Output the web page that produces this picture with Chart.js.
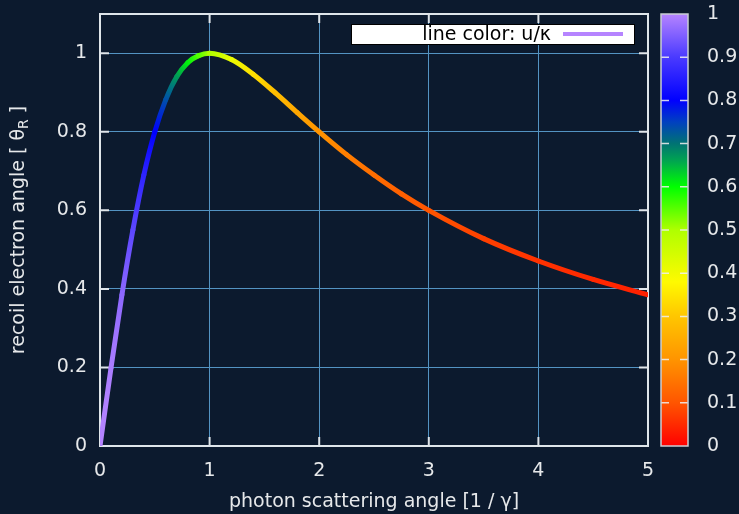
<!DOCTYPE html>
<html>
<head>
<meta charset="utf-8">
<script src="https://cdn.jsdelivr.net/npm/chart.js@4.4.0/dist/chart.umd.min.js"></script>
<style>
    html, body { margin: 0; padding: 0; background: #0c1a2e; }
    #wrap { width: 739px; height: 514px; }
</style>
</head>
<body>
<div id="wrap"><canvas id="recoilChart" width="739" height="514"></canvas></div>
<script>
// photon scattering angle [1/γ] and recoil electron angle
const angleX = [0, 0.1, 0.2, 0.3, 0.4, 0.5, 0.6, 0.7, 0.8, 0.9, 1.0, 1.2, 1.4, 1.6, 1.8, 2.0, 2.25, 2.5, 2.75, 3.0, 3.5, 4.0, 4.5, 5.0];
const angleY = [0, 0.198, 0.385, 0.550, 0.690, 0.800, 0.882, 0.940, 0.976, 0.994, 1.000, 0.984, 0.946, 0.899, 0.849, 0.800, 0.742, 0.690, 0.642, 0.600, 0.528, 0.471, 0.424, 0.385];
// u/κ along the curve (line colour)
const ratioU = [1.0, 0.990, 0.962, 0.917, 0.862, 0.800, 0.735, 0.671, 0.610, 0.552, 0.500, 0.410, 0.338, 0.281, 0.236, 0.200, 0.165, 0.138, 0.117, 0.100, 0.075, 0.059, 0.047, 0.038];

const xTicks = [0, 1, 2, 3, 4, 5];
const yTicks = [0, 0.2, 0.4, 0.6, 0.8, 1];
const cbTicks = [0, 0.1, 0.2, 0.3, 0.4, 0.5, 0.6, 0.7, 0.8, 0.9, 1];
const legendText = 'line color: u/κ';
const xTitle = 'photon scattering angle [1 / γ]';

const FONT = 'DejaVu Sans';
const TXT = '#e6e8ea';
const GRID = '#5393c2';
const FRAME = '#dfe5ea';

// palette of the colour bar
const stops = [
    [0.00, [255, 0, 0]],
    [0.10, [255, 85, 0]],
    [0.20, [255, 148, 0]],
    [0.30, [255, 198, 0]],
    [0.38, [255, 250, 0]],
    [0.50, [175, 255, 0]],
    [0.60, [0, 255, 0]],
    [0.66, [0, 165, 80]],
    [0.70, [0, 115, 115]],
    [0.75, [0, 64, 192]],
    [0.80, [0, 0, 255]],
    [0.90, [74, 58, 255]],
    [1.00, [182, 132, 255]]
];

function uColor(u) {
    for (let i = 1; i < stops.length; i++) {
        if (u <= stops[i][0]) {
            const a = stops[i - 1], b = stops[i];
            const t = (u - a[0]) / (b[0] - a[0]);
            const c = a[1].map((v, k) => Math.round(v + (b[1][k] - v) * t));
            return 'rgb(' + c.join(',') + ')';
        }
    }
    return 'rgb(' + stops[stops.length - 1][1].join(',') + ')';
}

const fmt = v => String(+v.toFixed(1));

const canvas = document.getElementById('recoilChart');
const ctx = canvas.getContext('2d');

const decor = {
    id: 'decor',
    beforeDatasetsDraw(chart) {
        const a = chart.chartArea, c = chart.ctx;
        const xs = chart.scales.x, ys = chart.scales.y;
        c.save();
        c.strokeStyle = FRAME;
        c.lineWidth = 2;
        c.beginPath();
        xTicks.forEach(v => {
            const px = xs.getPixelForValue(v);
            c.moveTo(px, a.bottom); c.lineTo(px, a.bottom - 9);
            c.moveTo(px, a.top); c.lineTo(px, a.top + 9);
        });
        yTicks.forEach(v => {
            const py = ys.getPixelForValue(v);
            c.moveTo(a.left, py); c.lineTo(a.left + 9, py);
            c.moveTo(a.right, py); c.lineTo(a.right - 9, py);
        });
        c.stroke();
        c.strokeRect(a.left, a.top, a.right - a.left, a.bottom - a.top);
        c.restore();
    },
    afterDraw(chart) {
        const a = chart.chartArea, c = chart.ctx;
        const cb = chart.scales.cb;
        c.save();
        // colour bar
        const x0 = a.right + 13, w = 27;
        const top = cb.getPixelForValue(1), bot = cb.getPixelForValue(0);
        const g = c.createLinearGradient(0, bot, 0, top);
        stops.forEach(s => g.addColorStop(s[0], 'rgb(' + s[1].join(',') + ')'));
        c.fillStyle = g;
        c.fillRect(x0, top, w, bot - top);
        c.strokeStyle = 'rgba(240,240,240,0.85)';
        c.lineWidth = 1.5;
        c.beginPath();
        cbTicks.slice(1, -1).forEach(v => {
            const py = cb.getPixelForValue(v);
            c.moveTo(x0, py); c.lineTo(x0 + 8, py);
            c.moveTo(x0 + w, py); c.lineTo(x0 + w - 8, py);
        });
        c.stroke();
        c.strokeStyle = '#c9ced3';
        c.lineWidth = 1.5;
        c.strokeRect(x0, top, w, bot - top);

        // legend box
        c.fillStyle = '#ffffff';
        c.fillRect(351, 24, 284, 21);
        c.strokeStyle = '#000000';
        c.lineWidth = 1;
        c.strokeRect(351.5, 24.5, 283, 20);
        c.fillStyle = '#000000';
        c.font = '19px "' + FONT + '"';
        c.textAlign = 'right';
        c.textBaseline = 'middle';
        c.fillText(legendText, 551, 35);
        c.strokeStyle = uColor(1);
        c.lineWidth = 4;
        c.beginPath();
        c.moveTo(563, 34); c.lineTo(623, 34);
        c.stroke();

        // y title with subscript
        const cy = (a.top + a.bottom) / 2;
        c.translate(19, cy);
        c.rotate(-Math.PI / 2);
        c.fillStyle = TXT;
        c.textAlign = 'left';
        const p1 = 'recoil electron angle [ θ', p2 = 'R', p3 = ' ]';
        const big = '19px "' + FONT + '"', small = '14px "' + FONT + '"';
        c.font = big;
        const w1 = c.measureText(p1).width, w3 = c.measureText(p3).width;
        c.font = small;
        const w2 = c.measureText(p2).width;
        let sx = -(w1 + w2 + w3) / 2;
        c.font = big;
        c.fillText(p1, sx, 0);
        c.font = small;
        c.fillText(p2, sx + w1, 5);
        c.font = big;
        c.fillText(p3, sx + w1 + w2, 0);
        c.restore();
    }
};

const recoilChart = new Chart(ctx, {
    type: 'line',
    data: {
        datasets: [{
            label: legendText,
            data: angleX.map((x, i) => ({ x: x, y: angleY[i] })),
            borderWidth: 5,
            borderCapStyle: 'round',
            borderJoinStyle: 'round',
            pointRadius: 0,
            cubicInterpolationMode: 'monotone',
            segment: {
                borderColor: function (s) {
                    const g = ctx.createLinearGradient(s.p0.x, s.p0.y, s.p1.x, s.p1.y);
                    g.addColorStop(0, uColor(ratioU[s.p0DataIndex]));
                    g.addColorStop(1, uColor(ratioU[s.p1DataIndex]));
                    return g;
                }
            }
        }]
    },
    options: {
        responsive: false,
        animation: false,
        layout: { padding: { top: 14, left: 0, right: 0, bottom: 0 } },
        plugins: {
            legend: { display: false },
            tooltip: { enabled: false }
        },
        scales: {
            x: {
                type: 'linear',
                min: 0,
                max: 5,
                afterBuildTicks: s => { s.ticks = xTicks.map(v => ({ value: v })); },
                afterFit: s => { s.height = 68; s.paddingLeft = 0; s.paddingRight = 0; },
                grid: { color: GRID, drawTicks: false, lineWidth: 1 },
                border: { display: false },
                ticks: { color: TXT, padding: 14, font: { family: FONT, size: 19 }, maxRotation: 0, callback: fmt },
                title: {
                    display: true,
                    text: xTitle,
                    color: TXT,
                    font: { family: FONT, size: 19 },
                    padding: { top: 0, bottom: 1 }
                }
            },
            y: {
                min: 0,
                max: 1.1,
                afterBuildTicks: s => { s.ticks = yTicks.map(v => ({ value: v })); },
                afterFit: s => { s.width = 100; s.paddingTop = 0; s.paddingBottom = 0; },
                grid: { color: GRID, drawTicks: false, lineWidth: 1 },
                border: { display: false },
                ticks: { color: TXT, padding: 13, font: { family: FONT, size: 19 }, callback: fmt }
            },
            cb: {
                type: 'linear',
                position: 'right',
                min: 0,
                max: 1,
                afterBuildTicks: s => { s.ticks = cbTicks.map(v => ({ value: v })); },
                afterFit: s => { s.width = 91; s.paddingTop = 0; s.paddingBottom = 0; },
                grid: { drawOnChartArea: false, drawTicks: true, tickLength: 46, color: 'rgba(0,0,0,0)' },
                border: { display: false },
                ticks: { color: TXT, padding: 13, font: { family: FONT, size: 19 }, callback: fmt }
            }
        }
    },
    plugins: [decor]
});
</script>
</body>
</html>
